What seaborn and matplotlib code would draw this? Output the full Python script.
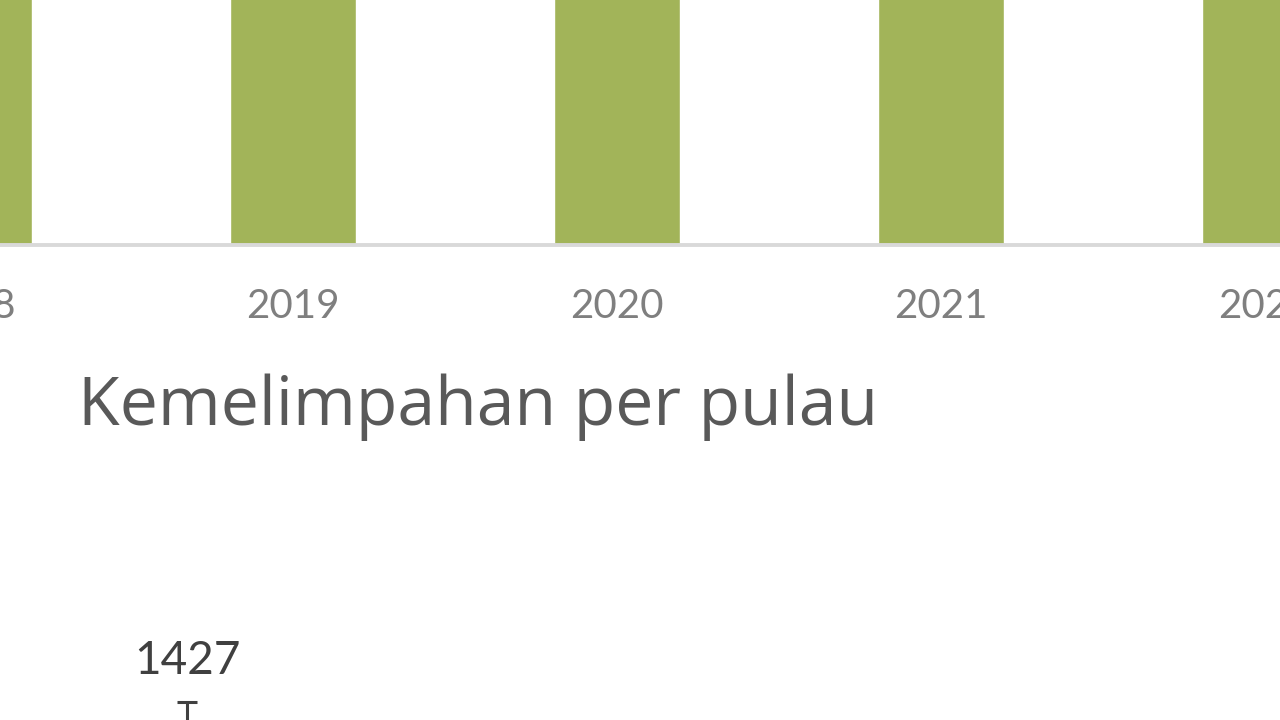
import numpy as np
import pandas as pd
import seaborn as sns
import matplotlib.pyplot as plt

# top chart (cropped): yearly totals, bar tops are outside the picture
years = ["2018", "2019", "2020", "2021", "2022"]
year_values = [2400, 2600, 2500, 2300, 2450]

# bottom chart: abundance per island, only the first label is visible
islands = ["Pulau 1"]
island_values = [1427]
island_err = [250]

sns.set_theme(style="white")
plt.rcParams["font.family"] = ["Lato", "DejaVu Sans"]

fig = plt.figure(figsize=(12.8, 7.2), dpi=100)

# ---- top bars (axes wider than the figure, the picture is a crop)
ax1 = fig.add_axes([-200 / 1280, 1 - 245 / 720, 1680 / 1280, 245 / 720])
df1 = pd.DataFrame({"Tahun": years, "Nilai": year_values})
sns.barplot(data=df1, x="Tahun", y="Nilai", color="#A2B459", width=0.39,
            saturation=1, ax=ax1)
ax1.set_xlim(-0.5216, 4.6636)
ax1.set_ylim(0, 1000)
ax1.set(xlabel="", ylabel="", yticks=[])
for s in ["top", "left", "right"]:
    ax1.spines[s].set_visible(False)
ax1.spines["bottom"].set_color("#d9d9d9")
ax1.spines["bottom"].set_linewidth(2.8)
ax1.tick_params(axis="x", length=0, pad=31, labelsize=29, labelcolor="#7f7f7f")

# ---- title of the second chart
fig.text(78 / 1280, 1 - 425 / 720, "Kemelimpahan per pulau",
         fontsize=49, color="#595959", family=["Open Sans", "DejaVu Sans"],
         ha="left", va="baseline")

# ---- bottom chart, extends below the picture
ax2 = fig.add_axes([0, 1 - 1200 / 720, 1, 730 / 720])
df2 = pd.DataFrame({"Pulau": islands, "Nilai": island_values})
sns.barplot(data=df2, x="Pulau", y="Nilai", color="#A2B459", width=0.39,
            saturation=1, ax=ax2)
ax2.errorbar(range(len(islands)), island_values, yerr=island_err, fmt="none",
             ecolor="#404040", elinewidth=2.2, capsize=7, capthick=2.2)
for i, (v, e) in enumerate(zip(island_values, island_err)):
    ax2.annotate(str(v), xy=(i, v + e), xytext=(0, 20), textcoords="offset points",
                 ha="center", va="baseline", fontsize=33, color="#404040")
ax2.set_xlim(-0.5, 2.92)
ax2.set_ylim(0, 2459)
ax2.set(xlabel="", ylabel="", xticks=[], yticks=[])
for s in ax2.spines.values():
    s.set_visible(False)
ax2.patch.set_alpha(0)

fig.savefig("out.png", dpi=100)
